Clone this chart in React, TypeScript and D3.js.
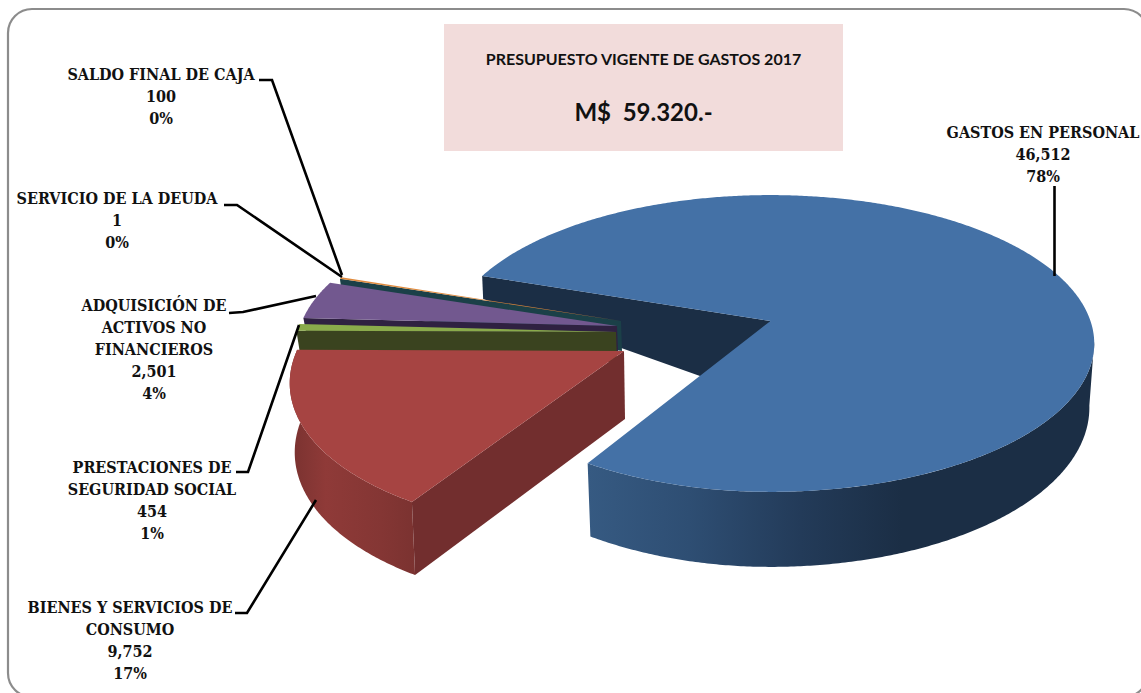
import React from "react";
import * as d3 from "d3";

const categories = ["GASTOS EN PERSONAL", "BIENES Y SERVICIOS DE CONSUMO", "PRESTACIONES DE SEGURIDAD SOCIAL", "ADQUISICIÓN DE ACTIVOS NO FINANCIEROS", "SERVICIO DE LA DEUDA", "SALDO FINAL DE CAJA"];
const values = [46512, 9752, 454, 2501, 1, 100];
const percents = ["78%", "17%", "1%", "4%", "0%", "0%"];
const valueLabels = ["46,512", "9,752", "454", "2,501", "1", "100"];
const nameLines = [
  ["GASTOS EN PERSONAL"],
  ["BIENES Y SERVICIOS DE", "CONSUMO"],
  ["PRESTACIONES DE", "SEGURIDAD SOCIAL"],
  ["ADQUISICIÓN DE", "ACTIVOS NO", "FINANCIEROS"],
  ["SERVICIO DE LA DEUDA"],
  ["SALDO FINAL DE CAJA"],
];
const titleText = "PRESUPUESTO VIGENTE DE GASTOS 2017";
const totalText = "M$  59.320.-";

// layout (no data)
const W = 1141, H = 693;
const apexX = 770.5, apexY = 321;
const RX = 320, RY = 145, PERSP = 0.1515;
const START = (199 * Math.PI) / 180;
const DEG = Math.PI / 180;

const sliceLayout = [
  { dx: 0, dy: 0, scale: 1, sx: 1, top: "#4471a6", face: "#1b2e45", d0: 62, d1: 13 },
  { dx: -146.5, dy: 30, scale: 1.06, sx: 0.965, top: "#a64442", face: "#722e2e", d0: 68, d1: 6 },
  { dx: -154.5, dy: 11, scale: 1, sx: 1, top: "#8aab4b", face: "#3a431f", d0: 30, d1: 0 },
  { dx: -153.5, dy: 5, scale: 0.99, sx: 1, top: "#72588f", face: "#2f2141", d0: 25, d1: 0 },
  { dx: -149.5, dy: 0, scale: 0.97, sx: 1, top: "#1b4048", face: "#1b4048", d0: 30, d1: 0 },
  { dx: -149.5, dy: 0, scale: 0.97, sx: 1, top: "#e08a3c", face: "#1b4048", d0: 30, d1: 0 },
];

const labelLayout = [
  { x: 1043, y: 138 },
  { x: 130, y: 613 },
  { x: 152, y: 473 },
  { x: 154, y: 311 },
  { x: 117, y: 204 },
  { x: 161, y: 80 },
];
const LINE_H = 22;

const leaderPaths: [number, number][][] = [
  [[1054.5, 186], [1054.5, 276]],
  [[235, 613], [247, 613], [316, 500]],
  [[236, 472], [248, 472], [299, 325]],
  [[229, 313], [243, 312], [316, 296]],
  [[224, 205], [237, 205], [342, 277]],
  [[259, 80], [272, 80], [342, 275]],
];

const pieGen = d3.pie<number>().sort(null).startAngle(START).endAngle(START + 2 * Math.PI);
const arcs = pieGen(values);
const line = d3.line<[number, number]>().x((d) => d[0]).y((d) => d[1]);

const local = (i: number, t: number): [number, number] => {
  const s = sliceLayout[i];
  const u = Math.cos(t), v = Math.sin(t);
  const k = 1 / (1 - PERSP * v);
  let x = RX * u * k * s.scale * s.sx;
  const y = RY * v * k * s.scale;
  if (i === 1 && y > 0) x += -0.112 * y; // red leans left toward the viewer
  if (i === 0 && y > 0 && x < 0) x += (0.056 * y * -x) / 191; // blue's lower-left corner
  return [x, y];
};
const pt = (i: number, t: number): [number, number] => {
  const s = sliceLayout[i];
  const [x, y] = local(i, t);
  return [apexX + s.dx + x, apexY + s.dy + y];
};
const lowerPt = (i: number, t: number): [number, number] => {
  const s = sliceLayout[i];
  const [x, y] = local(i, t);
  return [apexX + s.dx + x * 0.985, apexY + s.dy + y + s.d0 + s.d1 * Math.sin(t)];
};
const sweep = (a: number, b: number) => {
  const n = Math.max(2, Math.ceil(Math.abs(b - a) / (0.5 * DEG)));
  return d3.range(n + 1).map((k) => a + ((b - a) * k) / n);
};

const topPath = (i: number) => {
  const s = sliceLayout[i];
  const a = arcs[i];
  const pts: [number, number][] = [[apexX + s.dx, apexY + s.dy], ...sweep(a.startAngle, a.endAngle).map((t) => pt(i, t))];
  return line(pts) + "Z";
};
const facePath = (i: number, t: number) => {
  const s = sliceLayout[i];
  const pts: [number, number][] = [
    [apexX + s.dx, apexY + s.dy],
    pt(i, t),
    lowerPt(i, t),
    [apexX + s.dx + 1, apexY + s.dy + s.d0],
  ];
  return line(pts) + "Z";
};
const outerPath = (i: number, a: number, b: number) => {
  const ts = sweep(a, b);
  const pts: [number, number][] = [...ts.map((t) => pt(i, t)), ...ts.slice().reverse().map((t) => lowerPt(i, t))];
  return line(pts) + "Z";
};

// blue's inner face has its own measured depths
const blueInner = () => {
  const c = pt(0, arcs[0].startAngle);
  const pts: [number, number][] = [
    [apexX, apexY],
    c,
    [c[0] + 1, c[1] + 23],
    [apexX, apexY + 80],
  ];
  return line(pts) + "Z";
};

const labelFont = "'DejaVu Serif', serif";
const titleFont = "Lato, 'Open Sans', sans-serif";

export default function App() {
  const blueEnd = arcs[0].endAngle;
  const redA = arcs[1].startAngle, redB = arcs[1].endAngle;
  return (
    <svg width={W} height={H} viewBox={`0 0 ${W} ${H}`} style={{ position: "absolute", left: 0, top: 0, background: "#fff" }}>
      <defs>
        <linearGradient id="blueSide" gradientUnits="userSpaceOnUse" x1={588} x2={1094} y1={0} y2={0}>
          <stop offset="0" stopColor="#365a82" />
          <stop offset="0.2" stopColor="#2e4e73" />
          <stop offset="0.42" stopColor="#233b59" />
          <stop offset="0.62" stopColor="#1b2e45" />
          <stop offset="1" stopColor="#1b2e45" />
        </linearGradient>
        <linearGradient id="redSide" gradientUnits="userSpaceOnUse" x1={295} x2={418} y1={0} y2={0}>
          <stop offset="0" stopColor="#7c3331" />
          <stop offset="0.25" stopColor="#8f3a38" />
          <stop offset="0.7" stopColor="#843634" />
          <stop offset="1" stopColor="#7a3230" />
        </linearGradient>
      </defs>
      <rect x={8} y={9} width={1140} height={688} rx={24} ry={24} fill="#fff" stroke="#8c8c8c" strokeWidth={2.2} />
      <rect x={444} y={24} width={399} height={127} fill="#f2dcdb" />
      <text x={643.5} y={65} textAnchor="middle" fontFamily={titleFont} fontWeight={700} fontSize={16} fill="#111">{titleText}</text>
      <text x={643.5} y={121} textAnchor="middle" fontFamily={titleFont} fontWeight={700} fontSize={24} fill="#111" style={{ whiteSpace: "pre" }}>{totalText}</text>

      <path d={blueInner()} fill={sliceLayout[0].face} />
      <path d={outerPath(0, 368 * DEG, blueEnd)} fill="url(#blueSide)" />
      <path d={topPath(0)} fill={sliceLayout[0].top} />

      <path d={facePath(5, arcs[4].startAngle)} fill={sliceLayout[4].face} />
      <path d={topPath(4)} fill={sliceLayout[4].top} />
      <path d={topPath(5)} fill={sliceLayout[5].top} />

      <path d={facePath(3, arcs[3].startAngle)} fill={sliceLayout[3].face} />
      <path d={topPath(3)} fill={sliceLayout[3].top} />

      <path d={facePath(2, arcs[2].startAngle)} fill={sliceLayout[2].face} />
      <path d={topPath(2)} fill={sliceLayout[2].top} />

      <path d={outerPath(1, redA, redB)} fill="url(#redSide)" />
      <path d={facePath(1, redA)} fill={sliceLayout[1].face} />
      <path d={topPath(1)} fill={sliceLayout[1].top} />

      {leaderPaths.map((p, i) => (
        <path key={i} d={line(p) || ""} fill="none" stroke="#000" strokeWidth={2.6} />
      ))}

      {categories.map((c, i) => {
        const lines = [...nameLines[i], valueLabels[i], percents[i]];
        return (
          <text key={c} fontFamily={labelFont} fontWeight={700} fontSize={16} fontStretch="condensed" fill="#111" textAnchor="middle">
            {lines.map((l, k) => (
              <tspan key={k} x={labelLayout[i].x} y={labelLayout[i].y + k * LINE_H}>{l}</tspan>
            ))}
          </text>
        );
      })}
    </svg>
  );
}
